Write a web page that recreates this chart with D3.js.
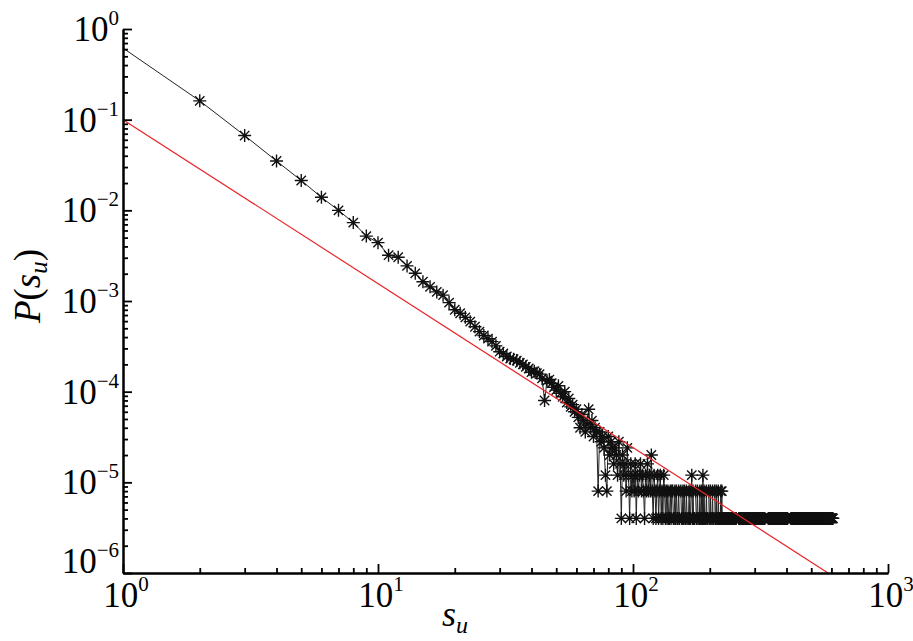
<!DOCTYPE html>
<html>
<head>
<meta charset="utf-8">
<script src="https://cdn.jsdelivr.net/npm/d3@7"></script>
<style>
  body { margin: 0; background: #fff; }
</style>
</head>
<body>
<svg width="913" height="641" font-family="'Liberation Serif', 'Times New Roman', Times, 'Nimbus Roman', serif"></svg>
<script>
// number of samples, so P(s) = count / total
const total = 250000;

// counts[i] is the number of samples with s_u = i + 1 (0 = nothing plotted)
const counts = [
  154000, 40300, 16700, 8750, 5330, 3480, 2500, 1830, 1300, 1100, // 1-10
  800, 760, 610, 505, 408, 358, 315, 290, 240, 200,               // 11-20
  183, 165, 148, 130, 115, 104, 96, 89, 80, 69,                   // 21-30
  66, 61, 58, 57, 55, 52, 50, 47, 45, 41,                         // 31-40
  42, 40, 39, 35, 20, 33, 34, 31, 28, 26,                         // 41-50
  29, 24, 22, 25, 19, 21, 17, 18, 15, 16,                         // 51-60
  13, 10, 14, 12, 9, 11, 16, 10, 12, 8,                           // 61-70
  10, 9, 2, 9, 7, 8, 6, 3, 2, 8,                                  // 71-80
  5, 7, 6, 4, 6, 5, 3, 7, 4, 1,                                   // 81-90
  5, 3, 4, 2, 6, 3, 1, 4, 2, 3,                                   // 91-100
  2, 4, 1, 3, 2, 3, 4, 2, 3, 2,
  1, 3, 2, 4, 2, 3, 2, 5, 2, 1,
  3, 2, 1, 2, 3, 1, 2, 3, 1, 2,
  1, 3, 2, 1, 2, 1, 2, 1, 1, 2,
  1, 2, 2, 1, 1, 2, 1, 2, 1, 1,
  2, 1, 0, 2, 1, 1, 2, 1, 2, 1,
  1, 2, 1, 0, 1, 2, 1, 1, 2, 3,
  1, 2, 1, 1, 0, 2, 1, 1, 2, 1,
  0, 1, 2, 1, 1, 2, 1, 3, 1, 2,
  1, 0, 1, 2, 1, 1, 0, 2, 1, 1,                                   // 191-200
  2, 1, 0, 1, 2, 1, 1, 0, 2, 1,
  1, 2, 1, 0, 1, 2, 1, 1, 0, 1,
  2, 1, 2, 1, 1, 0, 1, 1, 1, 0,
  1, 1, 0, 1, 1, 1, 1, 0, 1, 1,
  0, 1, 1, 1, 0, 1, 1, 0, 1, 1,
  1, 1, 0, 1, 0, 0, 0, 0, 0, 1,
  1, 0, 1, 1, 1, 0, 1, 1, 0, 1,
  1, 1, 0, 1, 1, 0, 1, 1, 1, 0,
  1, 0, 1, 1, 0, 1, 1, 1, 0, 1,
  1, 0, 1, 1, 0, 1, 0, 1, 1, 0,                                   // 291-300
  1, 1, 0, 1, 0, 1, 1, 0, 1, 0,
  1, 1, 0, 1, 1, 0, 1, 0, 1, 1,
  0, 1, 0, 1, 1, 0, 1, 0, 1, 0,
  0, 0, 0, 0, 0, 0, 0, 0, 1, 0,
  1, 1, 0, 1, 0, 1, 0, 1, 1, 0,
  1, 0, 1, 0, 1, 1, 0, 1, 0, 1,
  0, 1, 1, 0, 1, 0, 1, 0, 1, 1,
  0, 1, 0, 1, 0, 1, 1, 0, 1, 0,
  1, 0, 1, 1, 0, 1, 0, 1, 0, 1,
  1, 0, 1, 0, 1, 0, 1, 1, 0, 1,                                   // 391-400
  0, 1, 0, 1, 0, 0, 0, 0, 0, 0,
  0, 0, 0, 0, 0, 1, 0, 1, 1, 0,
  1, 0, 1, 0, 1, 1, 0, 1, 0, 1,
  0, 1, 1, 0, 1, 0, 1, 0, 1, 1,
  0, 1, 0, 1, 0, 1, 1, 0, 1, 0,
  1, 0, 1, 1, 0, 1, 0, 1, 0, 1,
  1, 0, 1, 0, 1, 0, 1, 1, 0, 1,
  0, 1, 0, 1, 1, 0, 1, 0, 1, 0,
  1, 1, 0, 1, 0, 1, 0, 1, 1, 0,
  1, 0, 1, 0, 1, 1, 0, 1, 0, 1,                                   // 491-500
  0, 1, 1, 0, 1, 0, 1, 0, 1, 0,
  1, 1, 0, 1, 0, 1, 0, 1, 1, 0,
  1, 0, 1, 0, 1, 0, 1, 1, 0, 1,
  0, 1, 0, 1, 1, 0, 1, 0, 1, 0,
  1, 0, 1, 1, 0, 1, 0, 1, 0, 1,
  1, 0, 1, 0, 1, 0, 1, 1, 0, 1,
  0, 1, 0, 1, 0, 1, 1, 0, 1, 0,
  1, 0, 1, 1, 0, 1, 0, 1, 0, 1,
  0, 1, 1, 0, 1, 0, 1, 0, 1, 1,
  0, 1, 0, 1, 1, 0, 1, 0, 1, 0,                                   // 591-600
  1, 0, 1, 1, 0, 1, 0, 1                                          // 601-608
];

// red reference line, end points
const fitS = [1, 582];
const fitP = [1e-1, 1e-6];

const xDecades = [1, 10, 100, 1000];
const yDecades = [1e-6, 1e-5, 1e-4, 1e-3, 1e-2, 1e-1, 1];

const svg = d3.select("svg");

const x = d3.scaleLog().domain([1, 1000]).range([123, 888]);
const y = d3.scaleLog().domain([1e-6, 1]).range([573, 29]);

const minorOf = decades => decades.slice(0, -1)
  .flatMap(d => d3.range(2, 10).map(k => k * d));

svg.append("clipPath").attr("id", "plot")
  .append("rect")
  .attr("x", x.range()[0]).attr("y", y.range()[1])
  .attr("width", x.range()[1] - x.range()[0])
  .attr("height", y.range()[0] - y.range()[1]);

const points = counts
  .map((c, i) => ({ s: i + 1, p: c / total }));

// data line
const line = d3.line()
  .defined(d => d.p > 0)
  .x(d => x(d.s))
  .y(d => y(d.p));

const plot = svg.append("g").attr("clip-path", "url(#plot)");

plot.append("path")
  .datum(points)
  .attr("d", line)
  .attr("fill", "none")
  .attr("stroke", "#222")
  .attr("stroke-width", 1);

// asterisk markers
const r = 6.5, q = r * 0.72;
const star = `M0,${-r}V${r}M${-r},0H${r}M${-q},${-q}L${q},${q}M${-q},${q}L${q},${-q}`;

plot.append("g")
  .selectAll("path")
  .data(points.filter(d => d.p > 0 && d.s > 1))
  .join("path")
  .attr("transform", d => `translate(${x(d.s)},${y(d.p)})`)
  .attr("d", star)
  .attr("fill", "none")
  .attr("stroke", "#111")
  .attr("stroke-width", 1.4);

// fit line
plot.append("path")
  .datum(d3.zip(fitS, fitP))
  .attr("d", d3.line().x(d => x(d[0])).y(d => y(d[1])))
  .attr("fill", "none")
  .attr("stroke", "#e8262a")
  .attr("stroke-width", 1.2);

// axes, ticks pointing inward
function styleAxis(g) {
  g.selectAll("path").attr("stroke", "#000").attr("stroke-width", 2);
  g.selectAll("line").attr("stroke", "#000").attr("stroke-width", 1.8);
  g.selectAll("text").remove();
}

svg.append("g")
  .attr("transform", `translate(${x.range()[0]},0)`)
  .call(d3.axisLeft(y).tickValues(yDecades).tickSize(-9).tickSizeOuter(0))
  .call(styleAxis);
svg.append("g")
  .attr("transform", `translate(${x.range()[0]},0)`)
  .call(d3.axisLeft(y).tickValues(minorOf(yDecades)).tickSize(-5).tickSizeOuter(0))
  .call(styleAxis);

svg.append("g")
  .attr("transform", `translate(0,${y.range()[0]})`)
  .call(d3.axisBottom(x).tickValues(xDecades).tickSize(-9).tickSizeOuter(0))
  .call(styleAxis);
svg.append("g")
  .attr("transform", `translate(0,${y.range()[0]})`)
  .call(d3.axisBottom(x).tickValues(minorOf(xDecades)).tickSize(-5).tickSizeOuter(0))
  .call(styleAxis);

// tick labels as 10^n
function powerLabel(text, v) {
  const e = Math.round(Math.log10(v));
  text.append("tspan").text("10");
  text.append("tspan")
    .attr("dy", -16)
    .attr("font-size", 21)
    .text(e < 0 ? "\u2212" + (-e) : e);
}

svg.append("g")
  .selectAll("text")
  .data(yDecades)
  .join("text")
  .attr("x", 119)
  .attr("y", d => y(d) + 12 - (d === 1e-6 ? 12 : 0))
  .attr("text-anchor", "end")
  .attr("font-size", 35)
  .each(function (d) { powerLabel(d3.select(this), d); });

svg.append("g")
  .selectAll("text")
  .data(xDecades)
  .join("text")
  .attr("x", d => x(d) + 3)
  .attr("y", 607)
  .attr("text-anchor", "middle")
  .attr("font-size", 35)
  .each(function (d) { powerLabel(d3.select(this), d); });

// axis titles
const xt = svg.append("text")
  .attr("x", 455).attr("y", 626)
  .attr("text-anchor", "middle")
  .attr("font-size", 36);
xt.append("tspan").attr("font-style", "italic").text("s");
xt.append("tspan").attr("font-style", "italic").attr("font-size", 24).attr("dy", 7).text("u");

const yt = svg.append("text")
  .attr("transform", "translate(40,286) rotate(-90)")
  .attr("text-anchor", "middle")
  .attr("font-size", 37);
yt.append("tspan").attr("font-style", "italic").text("P");
yt.append("tspan").text("(");
yt.append("tspan").attr("font-style", "italic").text("s");
yt.append("tspan").attr("font-style", "italic").attr("font-size", 25).attr("dy", 7).text("u");
yt.append("tspan").attr("dy", -7).text(")");
</script>
</body>
</html>
